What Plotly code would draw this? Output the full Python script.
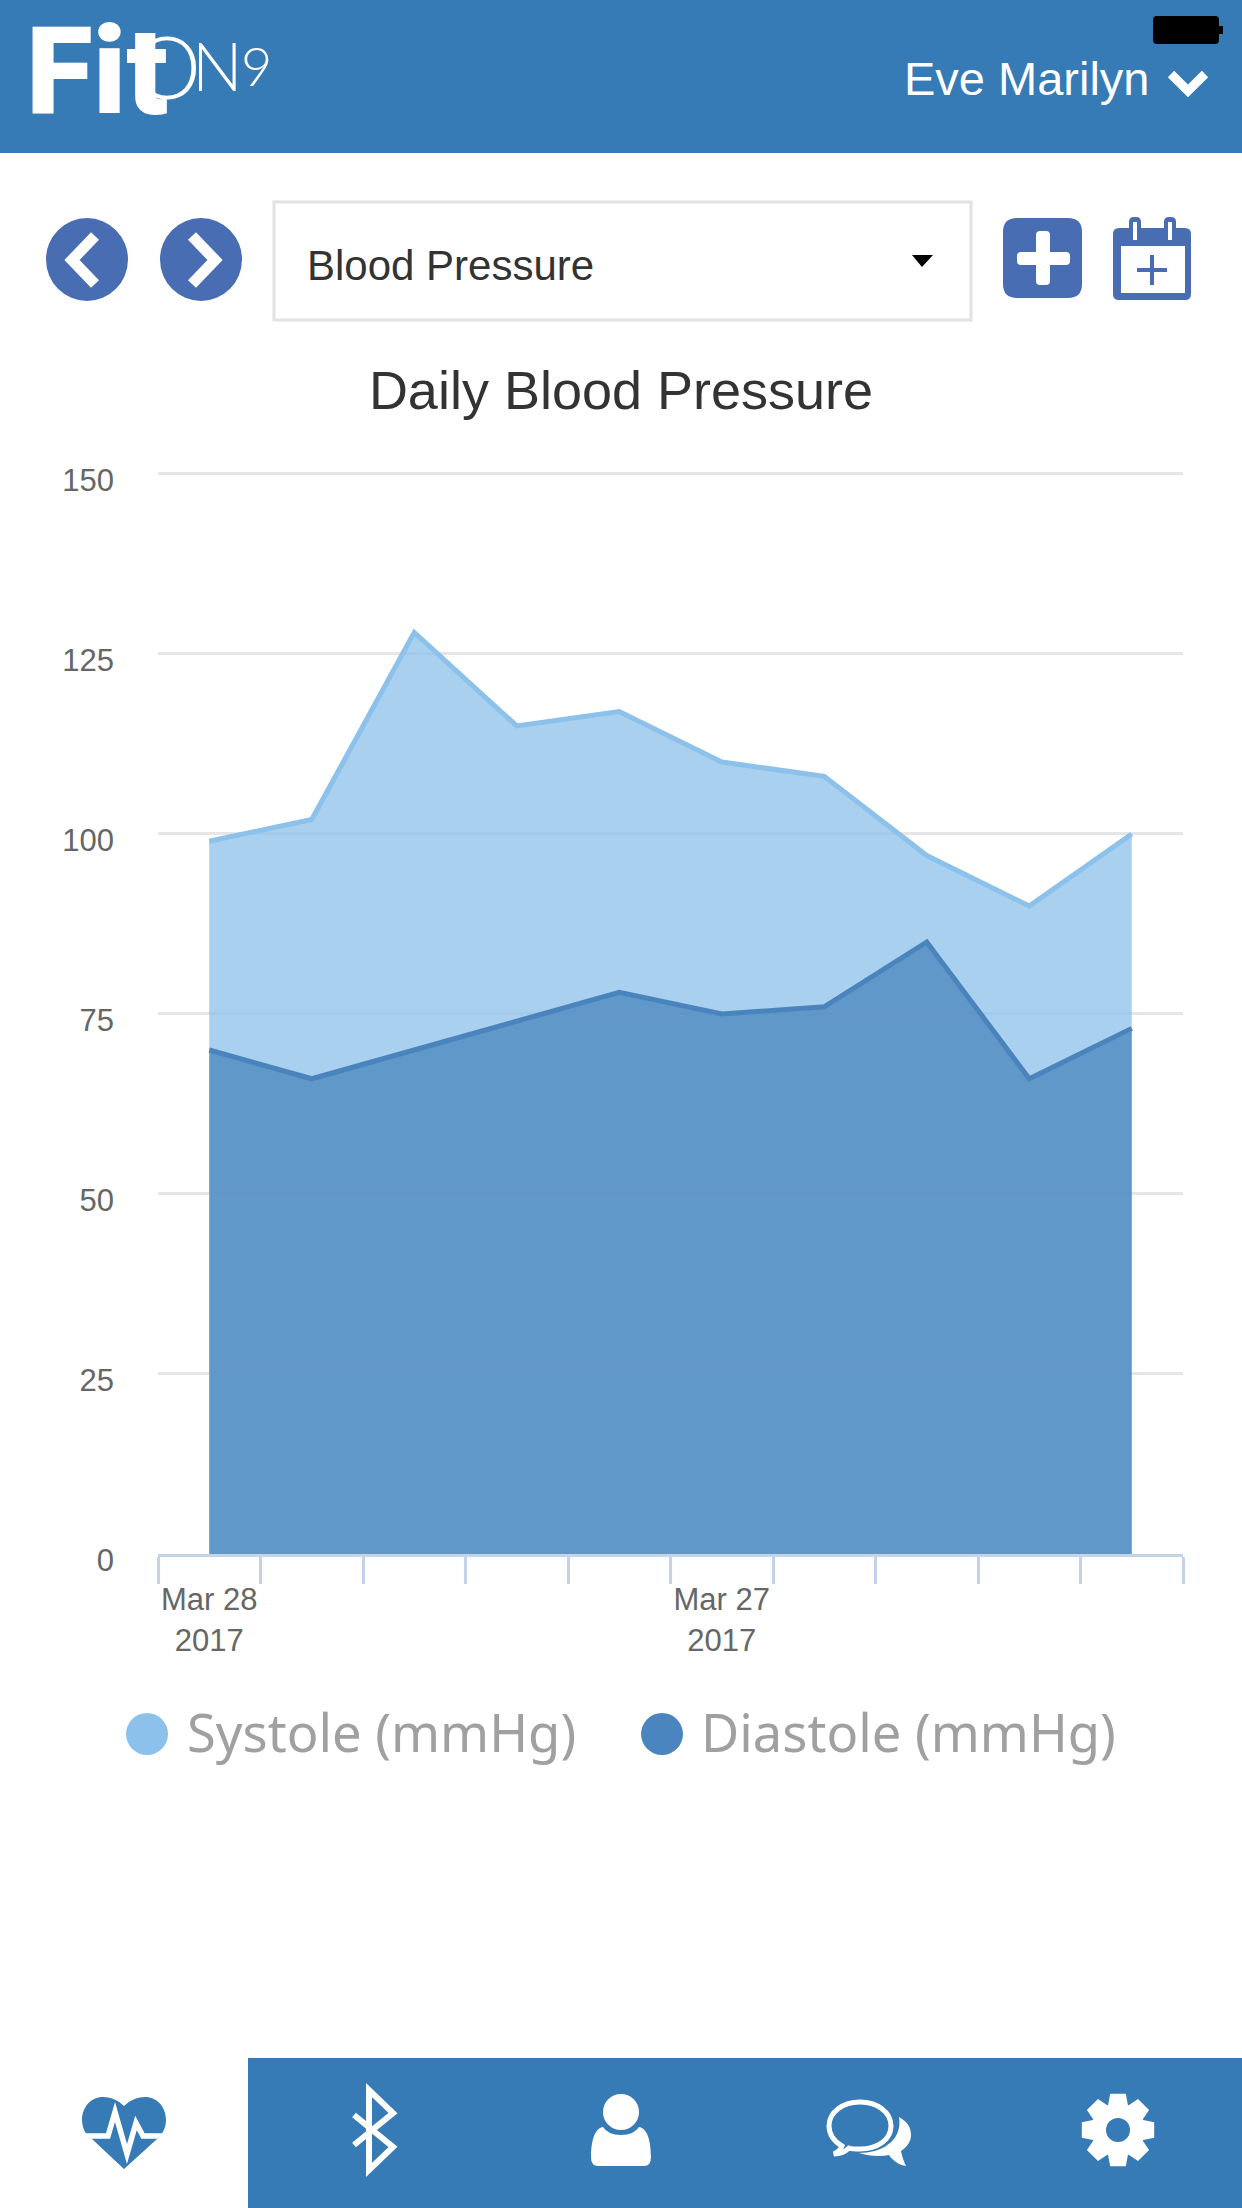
import math
import re
import plotly.graph_objects as go

W, H = 1242, 2208

categories = ["r1", "r2", "r3", "r4", "r5", "r6", "r7", "r8", "r9", "r10"]
tick_labels = ["Mar 28<br>2017", "", "", "", "", "Mar 27<br>2017", "", "", "", ""]
systole = [99, 102, 128, 115, 117, 110, 108, 97, 90, 100]
diastole = [70, 66, 70, 74, 78, 75, 76, 85, 66, 73]
y_ticks = [0, 25, 50, 75, 100, 125, 150]
legend_names = ["Systole (mmHg)", "Diastole (mmHg)"]

BLUE = "#367ab6"
BTN = "#486db3"

shapes = []
notes = []


# everything outside the plot is placed in page pixels, y going down
def px(x):
    return x / W


def py(y):
    return 1 - y / H


def to_paper(d):
    count = [0]

    def conv(m):
        v = float(m.group())
        count[0] += 1
        return f"{px(v):.5f}" if count[0] % 2 == 1 else f"{py(v):.5f}"

    return re.sub(r"-?\d+\.?\d*", conv, d)


def path(d, fill=None, line=None, width=0):
    shapes.append(dict(type="path", xref="paper", yref="paper", path=to_paper(d),
                       fillcolor=fill or "rgba(0,0,0,0)", line=dict(color=line or "rgba(0,0,0,0)", width=width)))


def rect(x0, y0, x1, y1, fill=None, line=None, width=0):
    shapes.append(dict(type="rect", xref="paper", yref="paper", x0=px(x0), x1=px(x1), y0=py(y0), y1=py(y1),
                       fillcolor=fill or "rgba(0,0,0,0)", line=dict(color=line or "rgba(0,0,0,0)", width=width)))


def circle(x0, y0, x1, y1, fill=None, line=None, width=0):
    shapes.append(dict(type="circle", xref="paper", yref="paper", x0=px(x0), x1=px(x1), y0=py(y0), y1=py(y1),
                       fillcolor=fill or "rgba(0,0,0,0)", line=dict(color=line or "rgba(0,0,0,0)", width=width)))


def rrect(x0, y0, x1, y1, r, fill):
    path(f"M{x0+r},{y0} L{x1-r},{y0} Q{x1},{y0} {x1},{y0+r} L{x1},{y1-r} Q{x1},{y1} {x1-r},{y1} "
         f"L{x0+r},{y1} Q{x0},{y1} {x0},{y1-r} L{x0},{y0+r} Q{x0},{y0} {x0+r},{y0} Z", fill=fill)


def text(x, y, s, size, color, family="Liberation Sans", anchor="left", weight=None):
    font = dict(family=family, size=size, color=color)
    if weight:
        font["weight"] = weight
    notes.append(dict(xref="paper", yref="paper", x=px(x), y=py(y), text=s, showarrow=False,
                      xanchor=anchor, yanchor="middle", font=font, borderpad=0))


def gear(cx, cy, r_out, r_in, teeth):
    pts = []
    step = 2 * math.pi / teeth
    for i in range(teeth):
        a = i * step - math.pi / 2
        for da, r in [(-0.30, r_in), (-0.17, r_out), (0.17, r_out), (0.30, r_in)]:
            pts.append((cx + r * math.cos(a + da * step * 1.6), cy + r * math.sin(a + da * step * 1.6)))
    return "M" + " L".join(f"{x:.1f},{y:.1f}" for x, y in pts) + " Z"


# header
rect(0, 0, W, 153, fill=BLUE)
rrect(1153, 16, 1219, 44, 4, "#000000")
rect(1219, 26, 1223, 34, fill="#000000")
text(132, 66, "O", 86, "#ffffff", family="Lato", weight=300)
text(191, 65, "N", 67, "#ffffff", family="Lato", weight=300)
text(240, 66, "9", 54, "#ffffff", family="Lato", weight=300)
text(25, 72, "Fit", 122, "#ffffff", family="Roboto", weight=900)
text(903, 79, "Eve Marilyn", 47, "#ffffff")
path("M1171,74 L1188,91 L1205,74", line="#ffffff", width=9)

# date buttons and dropdown
circle(46, 218, 128, 301, fill=BTN)
circle(160, 218, 242, 301, fill=BTN)
path("M95,236 L72,260 L95,284", line="#ffffff", width=11)
path("M192,236 L215,260 L192,284", line="#ffffff", width=11)
rect(274, 202, 971, 320, fill="#ffffff", line="#e2e2e2", width=3)
text(306, 265, "Blood Pressure", 42, "#333333")
path("M912,255 L933,255 L922,267 Z", fill="#000000")
rrect(1003, 218, 1082, 298, 14, BTN)
rrect(1017, 252, 1070, 265, 4, "#ffffff")
rrect(1036, 231, 1050, 285, 4, "#ffffff")

# calendar
rrect(1113, 228, 1191, 300, 6, BTN)
rect(1121, 246, 1185, 293, fill="#ffffff")
rrect(1129, 217, 1141, 240, 5, BTN)
rrect(1164, 217, 1176, 240, 5, BTN)
rect(1133, 222, 1137, 240, fill="#ffffff")
rect(1168, 222, 1172, 240, fill="#ffffff")
path("M1152,255 L1152,285 M1137,270 L1167,270", line=BTN, width=4)

# legend
for cx, c, tx, name in [(147, "#8bc1ea", 186, legend_names[0]), (662, "#4a85bf", 700, legend_names[1])]:
    circle(cx - 21, 1713, cx + 21, 1755, fill=c)
    text(tx, 1731, name, 52.5, "#a0a0a0", family="Noto Sans")

# bottom bar and icons
rect(248, 2058, W, H, fill=BLUE)
path("M124,2106 C118,2100 110,2097 103,2097 C91,2097 82,2107 82,2120 C82,2126 84,2131 87,2135 L92,2139 L124,2169 "
     "L157,2139 L161,2135 C164,2131 166,2126 166,2120 C166,2107 157,2097 145,2097 C138,2097 130,2100 124,2106 Z",
     fill=BLUE)
path("M82,2136 L108,2136 L115,2112 L127,2154 L136,2123 L143,2136 L166,2136", line="#ffffff", width=5.5)
path("M354,2115 L393,2147 L369,2170 L369,2090 L393,2113 L354,2145", line="#ffffff", width=6)
circle(603, 2094, 639, 2130, fill="#ffffff")
path("M603,2127 Q608,2135 621,2135 Q634,2135 639,2127 C647,2128 651,2140 651,2157 Q651,2166 644,2166 "
     "L598,2166 Q591,2166 591,2157 C591,2140 595,2128 603,2127 Z", fill="#ffffff")
path("M842,2146 C832,2140 829,2132 829,2126 C829,2112 843,2102 860,2102 C877,2102 891,2112 891,2126 "
     "C891,2140 877,2149 860,2149 C855,2149 852,2149 849,2148 C845,2152 840,2154 834,2154 C838,2152 841,2149 842,2146 Z",
     line="#ffffff", width=5)
path("M899,2117 C908,2122 911,2128 911,2135 C911,2142 907,2147 901,2151 C902,2156 904,2162 906,2166 "
     "C899,2165 893,2161 889,2155 C880,2157 868,2156 859,2153 C880,2153 903,2142 899,2117 Z", fill="#ffffff")
path(gear(1118, 2130, 37, 27, 8), fill="#ffffff")
circle(1106, 2118, 1130, 2142, fill=BLUE)

fig = go.Figure()
fig.add_trace(go.Scatter(x=categories, y=systole, mode="lines", name=legend_names[0],
                         line=dict(color="#8bc1ea", width=5), fill="tozeroy",
                         fillcolor="rgba(140,192,232,0.75)"))
fig.add_trace(go.Scatter(x=categories, y=diastole, mode="lines", name=legend_names[1],
                         line=dict(color="#4a84bc", width=5), fill="tozeroy",
                         fillcolor="rgba(74,133,190,0.75)"))

fig.update_layout(
    width=W, height=H, autosize=False,
    margin=dict(l=0, r=0, t=0, b=0, autoexpand=False),
    paper_bgcolor="#ffffff", plot_bgcolor="#ffffff",
    showlegend=False,
    title=dict(text="Daily Blood Pressure", x=0.5, xanchor="center", y=py(390), yanchor="middle",
               font=dict(family="Liberation Sans", size=54, color="#333333")),
    shapes=shapes,
    annotations=notes,
    xaxis=dict(domain=[px(158), px(1183)], type="category", categoryorder="array", categoryarray=categories,
               range=[-0.5, 9.5], tickmode="array", tickvals=categories, ticktext=tick_labels, tickson="boundaries",
               tickangle=0, ticks="outside", ticklen=27, tickwidth=2.5, tickcolor="#c5d3e8", ticklabelstandoff=16,
               showline=True, linecolor="#c5d3e8", linewidth=3, showgrid=False, zeroline=False,
               tickfont=dict(family="Liberation Sans", size=31, color="#666666")),
    # top of the range nudged so the 150 gridline is not clipped off
    yaxis=dict(domain=[py(1554), py(470)], range=[0, 150.55], tickmode="array", tickvals=y_ticks,
               showgrid=True, gridcolor="#e6e6e6", gridwidth=2.5, zeroline=False, showline=False, ticks="",
               ticklabelstandoff=43, ticklabelshift=6,
               tickfont=dict(family="Liberation Sans", size=31, color="#666666")),
)

fig.write_html("out.html", post_script="document.body.style.margin='0';",
               config=dict(displayModeBar=False))
